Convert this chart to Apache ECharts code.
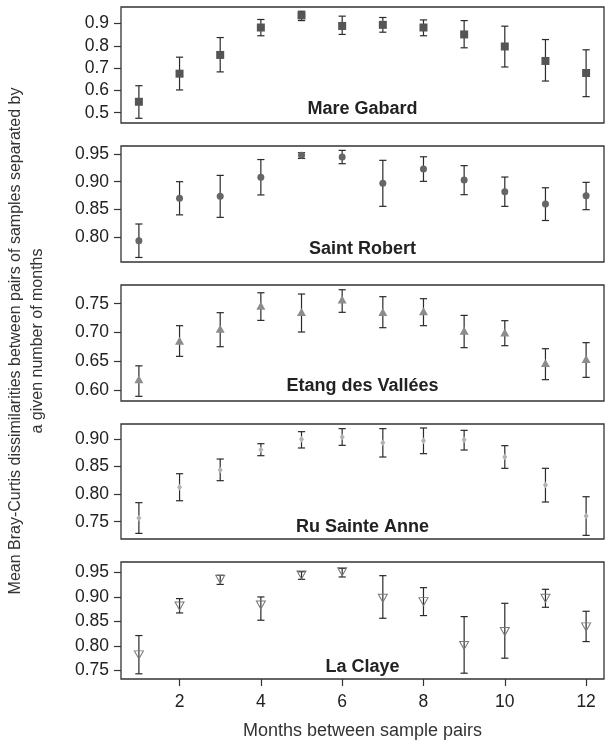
<!DOCTYPE html>
<html>
<head>
<meta charset="utf-8">
<script src="https://cdn.jsdelivr.net/npm/echarts@6/dist/echarts.min.js"></script>
<style>
html,body{margin:0;padding:0;background:#fff;}
#chart{width:605px;height:742px;}
</style>
</head>
<body>
<div id="chart"></div>
<script>
// ---- data ----
const months = [1,2,3,4,5,6,7,8,9,10,11,12];
const xTicks = [2,4,6,8,10,12];

const siteNames = ['Mare Gabard','Saint Robert','Etang des Vallées','Ru Sainte Anne','La Claye'];

const mareMean = [0.549,0.675,0.759,0.882,0.936,0.889,0.894,0.882,0.851,0.797,0.732,0.678];
const mareLo   = [0.475,0.602,0.683,0.845,0.913,0.851,0.861,0.845,0.791,0.705,0.642,0.572];
const mareHi   = [0.621,0.749,0.837,0.918,0.955,0.933,0.927,0.916,0.913,0.888,0.828,0.782];

const robertMean = [0.793,0.870,0.8735,0.908,0.9476,0.9446,0.897,0.923,0.903,0.882,0.8596,0.8747];
const robertLo   = [0.763,0.840,0.8355,0.876,0.942,0.9325,0.8554,0.9006,0.8765,0.8554,0.8298,0.8494];
const robertHi   = [0.8235,0.900,0.9114,0.940,0.9524,0.9566,0.9386,0.945,0.929,0.9084,0.889,0.8988];

const etangMean = [0.6185,0.6857,0.7066,0.7465,0.7355,0.7575,0.7355,0.7367,0.703,0.700,0.647,0.6539];
const etangLo   = [0.589,0.6585,0.6753,0.721,0.7008,0.735,0.7083,0.7118,0.6736,0.677,0.618,0.622];
const etangHi   = [0.642,0.7118,0.7344,0.769,0.7668,0.7743,0.7622,0.7587,0.7297,0.7205,0.6718,0.6823];

const ruMean = [0.7566,0.8123,0.8437,0.8806,0.8994,0.9036,0.8933,0.897,0.8988,0.8673,0.8165,0.7603];
const ruLo   = [0.7288,0.788,0.8244,0.8697,0.8837,0.8885,0.8673,0.8734,0.88,0.8468,0.7857,0.7252];
const ruHi   = [0.7845,0.837,0.8637,0.8915,0.9133,0.9188,0.9188,0.92,0.9157,0.8879,0.8468,0.7953];

const clayeMean = [0.782,0.882,0.9364,0.884,0.9452,0.952,0.8976,0.8908,0.8011,0.8296,0.8976,0.8392];
const clayeLo   = [0.7433,0.8677,0.926,0.8528,0.9364,0.9412,0.8568,0.8623,0.7446,0.7752,0.8793,0.8092];
const clayeHi   = [0.8215,0.897,0.9446,0.9004,0.952,0.9588,0.9439,0.9194,0.8602,0.8874,0.916,0.8711];

const yTicks1 = [0.5,0.6,0.7,0.8,0.9];
const yTicks2 = [0.80,0.85,0.90,0.95];
const yTicks3 = [0.60,0.65,0.70,0.75];
const yTicks4 = [0.75,0.80,0.85,0.90];
const yTicks5 = [0.75,0.80,0.85,0.90,0.95];

const yLabel = 'Mean Bray-Curtis dissimilarities between pairs of samples separated by\na given number of months';
const xLabel = 'Months between sample pairs';

// ---- layout / style ----
const FONT = '"Liberation Sans", Arial, Helvetica, sans-serif';
const panels = [
  {mean:mareMean, lo:mareLo, hi:mareHi, ticks:yTicks1, dec:1, yMin:0.4538, yMax:0.974,
   top:7, height:116, titleY:109,
   symbol:'rect', size:8, rotate:0, item:{color:'#555'}},
  {mean:robertMean, lo:robertLo, hi:robertHi, ticks:yTicks2, dec:2, yMin:0.7548, yMax:0.9645,
   top:146, height:116, titleY:249,
   symbol:'circle', size:7, rotate:0, item:{color:'#666'}},
  {mean:etangMean, lo:etangLo, hi:etangHi, ticks:yTicks3, dec:2, yMin:0.5809, yMax:0.7825,
   top:285, height:116, titleY:386,
   symbol:'triangle', size:[9,8], rotate:0, item:{color:'#8c8c8c'}},
  {mean:ruMean, lo:ruLo, hi:ruHi, ticks:yTicks4, dec:2, yMin:0.7186, yMax:0.9272,
   top:424, height:115, titleY:527,
   symbol:'diamond', size:[5,7], rotate:0, item:{color:'#b3b3b3'}},
  {mean:clayeMean, lo:clayeLo, hi:clayeHi, ticks:yTicks5, dec:2, yMin:0.7327, yMax:0.9718,
   top:562, height:117, titleY:667,
   symbol:'triangle', size:[9,8], rotate:180, item:{color:'rgba(0,0,0,0)', borderColor:'#777', borderWidth:1}}
];

const GRID_LEFT = 121, GRID_W = 483;

const grid = [], xAxis = [], yAxis = [], series = [], graphic = [];

function errorBar(params, api){
  const x = api.value(0), lo = api.value(1), hi = api.value(2);
  const a = api.coord([x, hi]);
  const b = api.coord([x, lo]);
  const hw = 3.6;
  const st = {stroke:'#2a2a2a', lineWidth:1.2};
  return {type:'group', children:[
    {type:'line', shape:{x1:a[0], y1:a[1], x2:b[0], y2:b[1]}, style:st},
    {type:'line', shape:{x1:a[0]-hw, y1:a[1], x2:a[0]+hw, y2:a[1]}, style:st},
    {type:'line', shape:{x1:b[0]-hw, y1:b[1], x2:b[0]+hw, y2:b[1]}, style:st}
  ]};
}

panels.forEach((p, i) => {
  const last = i === panels.length - 1;
  grid.push({left:GRID_LEFT, width:GRID_W, top:p.top, height:p.height,
    show:true, borderColor:'#333', borderWidth:1.3, backgroundColor:'transparent'});
  xAxis.push({
    gridIndex:i, type:'value', min:0.56, max:12.44,
    splitLine:{show:false}, axisLine:{show:false},
    axisTick:{show:last, length:7, customValues:xTicks, lineStyle:{color:'#333', width:1.2}},
    axisLabel:{show:last, customValues:xTicks, margin:14, fontSize:17.5, color:'#222', fontFamily:FONT}
  });
  yAxis.push({
    gridIndex:i, type:'value', min:p.yMin, max:p.yMax,
    splitLine:{show:false}, axisLine:{show:false},
    axisTick:{show:true, length:7, customValues:p.ticks, lineStyle:{color:'#333', width:1.2}},
    axisLabel:{customValues:p.ticks, margin:12, fontSize:17.5, color:'#222', fontFamily:FONT,
      formatter: v => Number(v).toFixed(p.dec)}
  });
  series.push({
    type:'custom', xAxisIndex:i, yAxisIndex:i, z:2,
    renderItem:errorBar,
    encode:{x:0, y:[1,2]},
    data: months.map((m, k) => [m, p.lo[k], p.hi[k]])
  });
  series.push({
    type:'scatter', xAxisIndex:i, yAxisIndex:i, z:3,
    symbol:p.symbol, symbolSize:p.size, symbolRotate:p.rotate,
    itemStyle:Object.assign({opacity:1}, p.item),
    emphasis:{disabled:true},
    data: months.map((m, k) => [m, p.mean[k]])
  });
  graphic.push({type:'text', x:GRID_LEFT + GRID_W/2, y:p.titleY, z:10,
    style:{text:siteNames[i], font:'bold 18px ' + FONT, fill:'#222', align:'center', verticalAlign:'middle'}});
});

graphic.push({type:'text', x:GRID_LEFT + GRID_W/2, y:731,
  style:{text:xLabel, font:'18px ' + FONT, fill:'#333', align:'center', verticalAlign:'middle'}});
graphic.push({type:'text', x:27, y:341, rotation:Math.PI/2,
  style:{text:yLabel, font:'16px ' + FONT, fill:'#333', align:'center', verticalAlign:'middle', lineHeight:22}});

const chart = echarts.init(document.getElementById('chart'), null, {renderer:'canvas'});
chart.setOption({
  animation:false,
  backgroundColor:'#fff',
  textStyle:{fontFamily:FONT},
  grid, xAxis, yAxis, series, graphic
});
</script>
</body>
</html>
